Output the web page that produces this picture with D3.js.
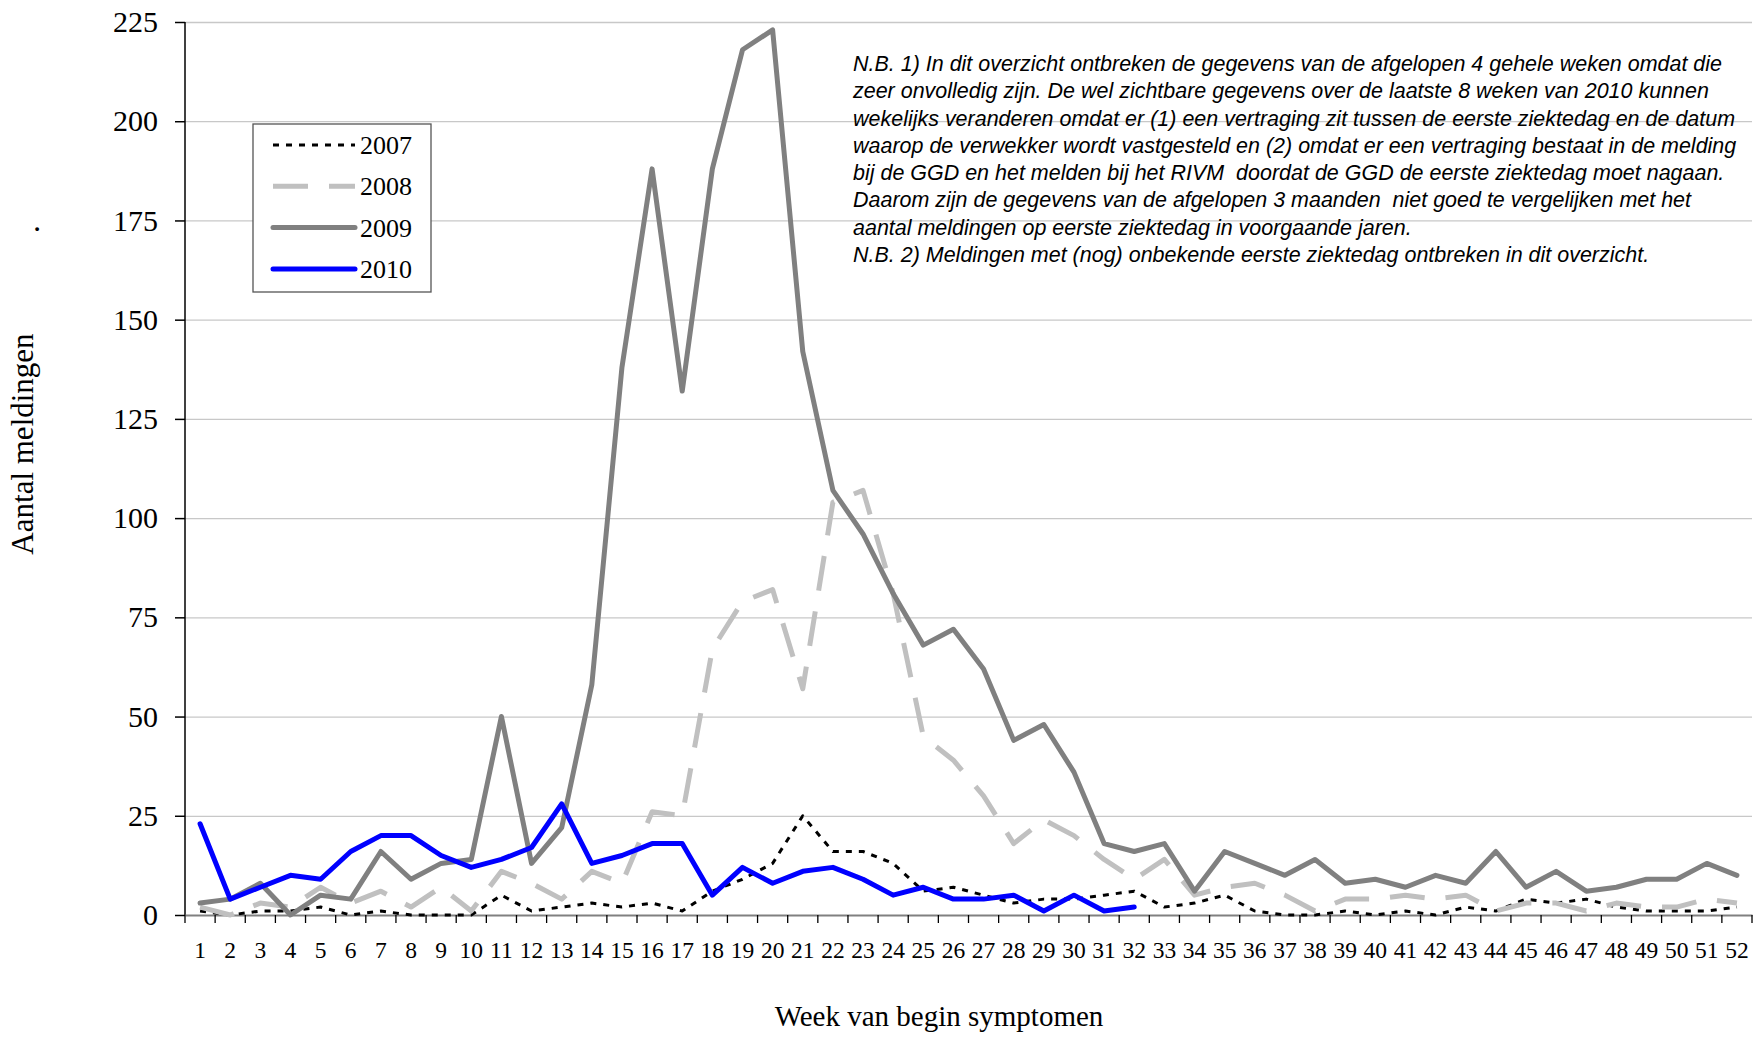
<!DOCTYPE html>
<html>
<head>
<meta charset="utf-8">
<script src="https://cdn.jsdelivr.net/npm/d3@7"></script>
<style>
  body { margin: 0; background: #fff; }
  svg text { fill: #000; }
</style>
</head>
<body>
<div id="chart"></div>
<script>
// weeks and tick values
const weeks = d3.range(1, 53);
const yTicks = [0, 25, 50, 75, 100, 125, 150, 175, 200, 225];

// meldingen per week
const y2007 = [1, 0, 1, 1, 2, 0, 1, 0, 0, 0, 5, 1, 2, 3, 2, 3, 1, 6, 9, 13, 25, 16, 16, 13, 6, 7,
  5, 3, 4, 4, 5, 6, 2, 3, 5, 1, 0, 0, 1, 0, 1, 0, 2, 1, 4, 3, 4, 2, 1, 1, 1, 2];
const y2008 = [2, 0, 3, 2, 7, 3, 6, 2, 7, 1, 11, 8, 4, 11, 8, 26, 25, 67, 79, 82, 57, 104, 107, 81, 45, 39,
  30, 18, 24, 20, 14, 9, 14, 5, 7, 8, 5, 1, 4, 4, 5, 4, 5, 1, 3, 3, 1, 3, 2, 2, 4, 3];
const y2009 = [3, 4, 8, 0, 5, 4, 16, 9, 13, 14, 50, 13, 22, 58, 138, 188, 132, 188, 218, 223, 142, 107, 96, 81, 68, 72,
  62, 44, 48, 36, 18, 16, 18, 6, 16, 13, 10, 14, 8, 9, 7, 10, 8, 16, 7, 11, 6, 7, 9, 9, 13, 10];
const y2010 = [23, 4, 7, 10, 9, 16, 20, 20, 15, 12, 14, 17, 28, 13, 15, 18, 18, 5, 12, 8, 11, 12, 9, 5, 7, 4,
  4, 5, 1, 5, 1, 2];

const seriesNames = ["2007", "2008", "2009", "2010"];
const seriesValues = [y2007, y2008, y2009, y2010];

const notes = [
  "N.B. 1) In dit overzicht ontbreken de gegevens van de afgelopen 4 gehele weken omdat die",
  "zeer onvolledig zijn. De wel zichtbare gegevens over de laatste 8 weken van 2010 kunnen",
  "wekelijks veranderen omdat er (1) een vertraging zit tussen de eerste ziektedag en de datum",
  "waarop de verwekker wordt vastgesteld en (2) omdat er een vertraging bestaat in de melding",
  "bij de GGD en het melden bij het RIVM  doordat de GGD de eerste ziektedag moet nagaan.",
  "Daarom zijn de gegevens van de afgelopen 3 maanden  niet goed te vergelijken met het",
  "aantal meldingen op eerste ziektedag in voorgaande jaren.",
  "N.B. 2) Meldingen met (nog) onbekende eerste ziektedag ontbreken in dit overzicht."
];

// line styles per series
const styles = {
  "2007": { color: "#000000", width: 3, dash: "6,7" },
  "2008": { color: "#c0c0c0", width: 5, dash: "35,21" },
  "2009": { color: "#808080", width: 5, dash: null },
  "2010": { color: "#0000ff", width: 5, dash: null }
};

const W = 1760, H = 1039;
const margin = { top: 22, right: 8, bottom: 124, left: 185 };
const width = W - margin.left - margin.right,
  height = H - margin.top - margin.bottom;

const serif = "'Liberation Serif', 'Times New Roman', serif";

const svg = d3.select("#chart").append("svg")
  .attr("width", W)
  .attr("height", H);

const g = svg.append("g")
  .attr("transform", "translate(" + margin.left + "," + margin.top + ")");

const x = d3.scaleBand().domain(weeks).range([0, width]);
const y = d3.scaleLinear().domain([0, 225]).range([height, 0]);
const cx = w => x(w) + x.bandwidth() / 2;

// gridlines
g.append("g")
  .attr("class", "grid")
  .call(d3.axisLeft(y).tickValues(yTicks.slice(1)).tickSize(-width).tickFormat(""))
  .call(s => s.select(".domain").remove())
  .selectAll("line")
  .attr("stroke", "#c8c8c8")
  .attr("stroke-width", 1.3);

// y axis
const yAxis = g.append("g")
  .call(d3.axisLeft(y).tickValues(yTicks).tickSize(10).tickPadding(17));
yAxis.select(".domain").attr("stroke", "#000").attr("stroke-width", 1.5).attr("d", "M0," + y(225) + "V" + y(0));
yAxis.selectAll(".tick line").attr("stroke", "#000").attr("stroke-width", 1.5);
yAxis.selectAll("text")
  .style("font-family", serif)
  .style("font-size", "30px")
  .attr("fill", "#000");

// x axis: labels centred on weeks, ticks on week boundaries
const xAxis = g.append("g")
  .attr("transform", "translate(0," + height + ")")
  .call(d3.axisBottom(x).tickSize(0).tickPadding(26));
xAxis.select(".domain").attr("stroke", "#808080").attr("stroke-width", 2.2);
xAxis.selectAll("text")
  .style("font-family", serif)
  .style("font-size", "23.5px")
  .attr("fill", "#000");

g.append("g")
  .selectAll("line")
  .data(weeks.concat([53]))
  .enter()
  .append("line")
  .attr("x1", d => d === 53 ? width : x(d))
  .attr("x2", d => d === 53 ? width : x(d))
  .attr("y1", height)
  .attr("y2", height + 8)
  .attr("stroke", "#000")
  .attr("stroke-width", 1.3);

// lines
const line = d3.line()
  .x((d, i) => cx(weeks[i]))
  .y(d => y(d));

seriesNames.forEach((name, k) => {
  const st = styles[name];
  g.append("path")
    .datum(seriesValues[k])
    .attr("fill", "none")
    .attr("stroke", st.color)
    .attr("stroke-width", st.width)
    .attr("stroke-linejoin", "round")
    .attr("stroke-linecap", st.dash ? "butt" : "round")
    .attr("stroke-dasharray", st.dash)
    .attr("d", line);
});

// legend
const legend = svg.append("g").attr("transform", "translate(253,124)");
legend.append("rect")
  .attr("width", 178)
  .attr("height", 168)
  .attr("fill", "#fff")
  .attr("stroke", "#555")
  .attr("stroke-width", 1.3);

seriesNames.forEach((name, k) => {
  const st = styles[name];
  const ly = 21 + k * 41.3;
  legend.append("line")
    .attr("x1", 20).attr("x2", 102)
    .attr("y1", ly).attr("y2", ly)
    .attr("stroke", st.color)
    .attr("stroke-width", st.width)
    .attr("stroke-linecap", st.dash ? "butt" : "round")
    .attr("stroke-dasharray", st.dash);
  legend.append("text")
    .attr("x", 107)
    .attr("y", ly + 9)
    .style("font-family", serif)
    .style("font-size", "26px")
    .text(name);
});

// axis titles
svg.append("text")
  .attr("transform", "translate(33,444) rotate(-90)")
  .attr("text-anchor", "middle")
  .style("font-family", serif)
  .style("font-size", "31px")
  .text("Aantal meldingen");

svg.append("text")
  .attr("transform", "translate(39,229) rotate(-90)")
  .attr("text-anchor", "middle")
  .style("font-family", serif)
  .style("font-size", "31px")
  .text(".");

svg.append("text")
  .attr("x", 939)
  .attr("y", 1026)
  .attr("text-anchor", "middle")
  .style("font-family", serif)
  .style("font-size", "29px")
  .text("Week van begin symptomen");

// notes (slightly condensed italic sans)
const noteText = svg.append("text")
  .attr("transform", "translate(853,71) scale(0.955,1)")
  .style("font-family", "'Liberation Sans Narrow', 'Arial Narrow', 'Liberation Sans', sans-serif")
  .style("font-style", "italic")
  .style("font-size", "22.5px")
  .style("white-space", "pre");

noteText.selectAll("tspan")
  .data(notes)
  .enter()
  .append("tspan")
  .attr("x", 0)
  .attr("y", (d, i) => i * 27.3)
  .text(d => d);
</script>
</body>
</html>
